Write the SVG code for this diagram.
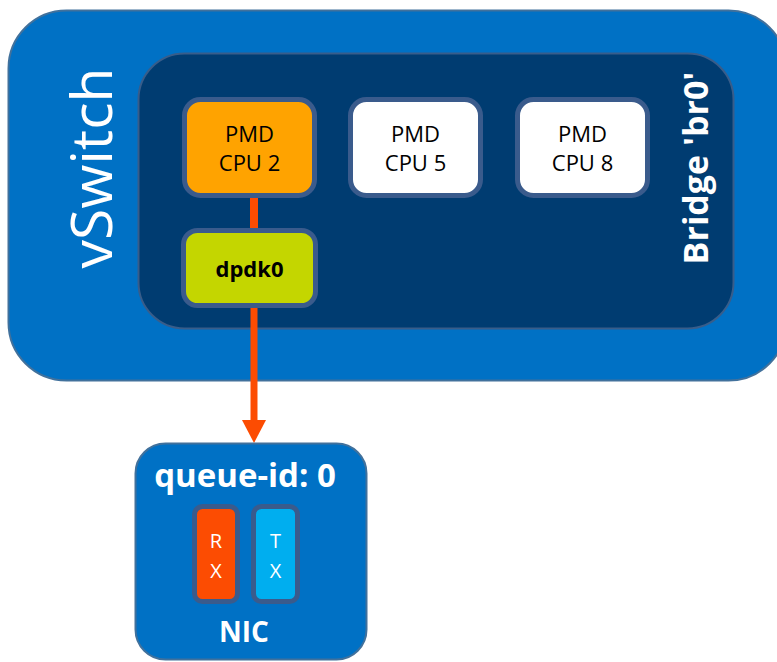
<svg xmlns="http://www.w3.org/2000/svg" width="777" height="662" viewBox="0 0 777 662">
<defs>
<style>
.t{font-family:"Open Sans","Noto Sans","Liberation Sans",sans-serif;text-anchor:middle}
.w{fill:#ffffff}
.k{fill:#000000}
.b{font-weight:bold}
.node{stroke:#3a5b8c;stroke-width:5}
</style>
</defs>
<g id="vswitch">
<rect x="8.5" y="10.5" width="778" height="370" rx="58" fill="#0071c5" stroke="#41719c" stroke-width="2"/>
<text class="t w" transform="translate(112,168) rotate(-90)" font-size="57" font-weight="400">vSwitch</text>
</g>
<g id="bridge">
<rect x="138.5" y="53.5" width="595" height="275" rx="46" fill="#003c71" stroke="#385d8a" stroke-width="2"/>
<text class="t w b" transform="translate(708,168) rotate(-90)" font-size="34">Bridge 'br0'</text>
</g>
<g id="connectors">
<line x1="254" y1="198" x2="254" y2="230" stroke="#fc4c02" stroke-width="8"/>
<line x1="254" y1="306" x2="254" y2="420" stroke="#fc4c02" stroke-width="7"/>
<path d="M242 420 L266 420 L254 443 Z" fill="#fc4c02"/>
</g>
<g id="pmd2">
<rect class="node" x="184.5" y="99.5" width="130" height="96" rx="16" fill="#ffa300"/>
<text class="t k" x="249.5" y="142" font-size="22">PMD</text>
<text class="t k" x="249.5" y="171" font-size="22">CPU 2</text>
</g>
<g id="pmd5">
<rect class="node" x="350.5" y="99.5" width="130" height="96" rx="16" fill="#ffffff"/>
<text class="t k" x="415.5" y="142" font-size="22">PMD</text>
<text class="t k" x="415.5" y="171" font-size="22">CPU 5</text>
</g>
<g id="pmd8">
<rect class="node" x="517.5" y="99.5" width="130" height="96" rx="16" fill="#ffffff"/>
<text class="t k" x="582.5" y="142" font-size="22">PMD</text>
<text class="t k" x="582.5" y="171" font-size="22">CPU 8</text>
</g>
<g id="dpdk0">
<rect class="node" x="183.5" y="230.5" width="132" height="75" rx="14" fill="#c4d600"/>
<text class="t k b" x="249.5" y="277" font-size="22">dpdk0</text>
</g>
<g id="nic">
<rect x="135.5" y="443.5" width="231" height="216" rx="30" fill="#0071c5" stroke="#41719c" stroke-width="2"/>
<text class="t w b" x="245" y="487" font-size="33">queue-id: 0</text>
<text class="t w b" x="244" y="642" font-size="28">NIC</text>
</g>
<g id="rx">
<rect class="node" x="194.5" y="506.5" width="43" height="95" rx="8" fill="#fc4c02"/>
<text class="t w" x="216" y="548" font-size="20">R</text>
<text class="t w" x="216" y="578" font-size="20">X</text>
</g>
<g id="tx">
<rect class="node" x="253.5" y="506.5" width="44" height="95" rx="8" fill="#00aeef"/>
<text class="t w" x="275.5" y="548" font-size="20">T</text>
<text class="t w" x="275.5" y="578" font-size="20">X</text>
</g>
</svg>
